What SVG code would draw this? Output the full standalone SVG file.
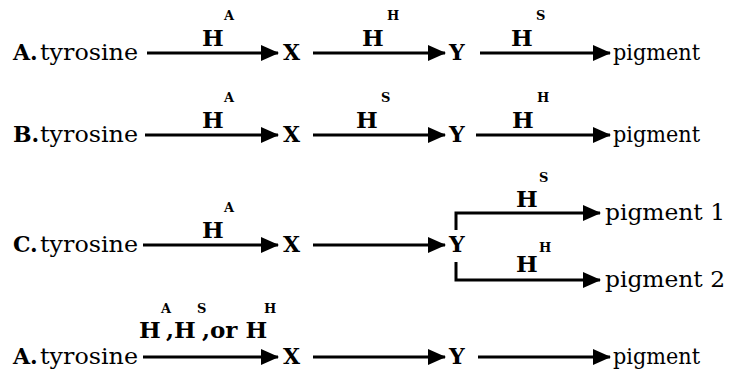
<svg xmlns="http://www.w3.org/2000/svg" width="738" height="375" viewBox="0 0 738 375">
  <defs>
    <marker id="head" viewBox="0 0 18 16" refX="17" refY="8" markerWidth="18" markerHeight="16" markerUnits="userSpaceOnUse" orient="auto">
      <path d="M0,0 L18,8 L0,16 Z" fill="#000"/>
    </marker>
    <style>
      text { font-family: "DejaVu Serif", "Liberation Serif", serif; fill: #000; }
      .t { font-size: 22px; }
      .b { font-weight: bold; }
      .h { font-size: 23px; font-weight: bold; }
      .s { font-size: 13px; font-weight: bold; }
      .arr { stroke: #000; stroke-width: 3; fill: none; marker-end: url(#head); }
    </style>
  </defs>
  <rect width="738" height="375" fill="#fff"/>

  <!-- pathway A -->
  <g id="rowA">
    <text class="t b" x="13" y="60">A.</text>
    <text class="t" x="40" y="60" textLength="98" lengthAdjust="spacingAndGlyphs">tyrosine</text>
    <text class="t b" x="283" y="60">X</text>
    <text class="t b" x="449" y="60">Y</text>
    <text class="t" x="613" y="60" textLength="87" lengthAdjust="spacingAndGlyphs">pigment</text>
    <text class="h" x="202" y="46">H</text><text class="s" x="224" y="20">A</text>
    <text class="h" x="362" y="46">H</text><text class="s" x="387" y="20">H</text>
    <text class="h" x="511" y="46">H</text><text class="s" x="536" y="20">S</text>
  </g>

  <!-- pathway B -->
  <g id="rowB">
    <text class="t b" x="13" y="142">B.</text>
    <text class="t" x="40" y="142" textLength="98" lengthAdjust="spacingAndGlyphs">tyrosine</text>
    <text class="t b" x="283" y="142">X</text>
    <text class="t b" x="449" y="142">Y</text>
    <text class="t" x="613" y="142" textLength="87" lengthAdjust="spacingAndGlyphs">pigment</text>
    <text class="h" x="202" y="128">H</text><text class="s" x="224" y="102">A</text>
    <text class="h" x="356" y="128">H</text><text class="s" x="381" y="102">S</text>
    <text class="h" x="512" y="128">H</text><text class="s" x="537" y="102">H</text>
  </g>

  <!-- pathway C (branched) -->
  <g id="rowC">
    <text class="t b" x="13" y="252">C.</text>
    <text class="t" x="40" y="252" textLength="98" lengthAdjust="spacingAndGlyphs">tyrosine</text>
    <text class="t b" x="283" y="252">X</text>
    <text class="t b" x="449" y="252">Y</text>
    <text class="t" x="605" y="220" textLength="120" lengthAdjust="spacingAndGlyphs">pigment 1</text>
    <text class="t" x="605" y="287" textLength="120" lengthAdjust="spacingAndGlyphs">pigment 2</text>
    <text class="h" x="202" y="238">H</text><text class="s" x="224" y="212">A</text>
    <text class="h" x="516" y="207">H</text><text class="s" x="539" y="182">S</text>
    <text class="h" x="516" y="272">H</text><text class="s" x="539" y="252">H</text>
  </g>

  <!-- summary pathway -->
  <g id="rowD">
    <text class="t b" x="13" y="364">A.</text>
    <text class="t" x="40" y="364" textLength="98" lengthAdjust="spacingAndGlyphs">tyrosine</text>
    <text class="t b" x="283" y="364">X</text>
    <text class="t b" x="449" y="364">Y</text>
    <text class="t" x="613" y="364" textLength="87" lengthAdjust="spacingAndGlyphs">pigment</text>
    <text class="h" x="139" y="338">H</text><text class="s" x="161" y="313">A</text>
    <text class="h" x="166" y="338">,H</text><text class="s" x="197" y="313">S</text>
    <text class="h" x="202" y="338">,or H</text><text class="s" x="264" y="313">H</text>
  </g>

  <g id="connectors">
    <line class="arr" x1="147" y1="53" x2="278" y2="53"/>
    <line class="arr" x1="313" y1="53" x2="445" y2="53"/>
    <line class="arr" x1="480" y1="53" x2="610" y2="53"/>

    <line class="arr" x1="145" y1="135" x2="278" y2="135"/>
    <line class="arr" x1="313" y1="135" x2="445" y2="135"/>
    <line class="arr" x1="476" y1="135" x2="610" y2="135"/>

    <line class="arr" x1="143" y1="245" x2="278" y2="245"/>
    <line class="arr" x1="313" y1="245" x2="445" y2="245"/>
    <polyline class="arr" points="456,230 456,213 600,213"/>
    <polyline class="arr" points="456,262 456,280 600,280"/>

    <line class="arr" x1="143" y1="357" x2="278" y2="357"/>
    <line class="arr" x1="313" y1="357" x2="445" y2="357"/>
    <line class="arr" x1="478" y1="357" x2="610" y2="357"/>
  </g>
</svg>
